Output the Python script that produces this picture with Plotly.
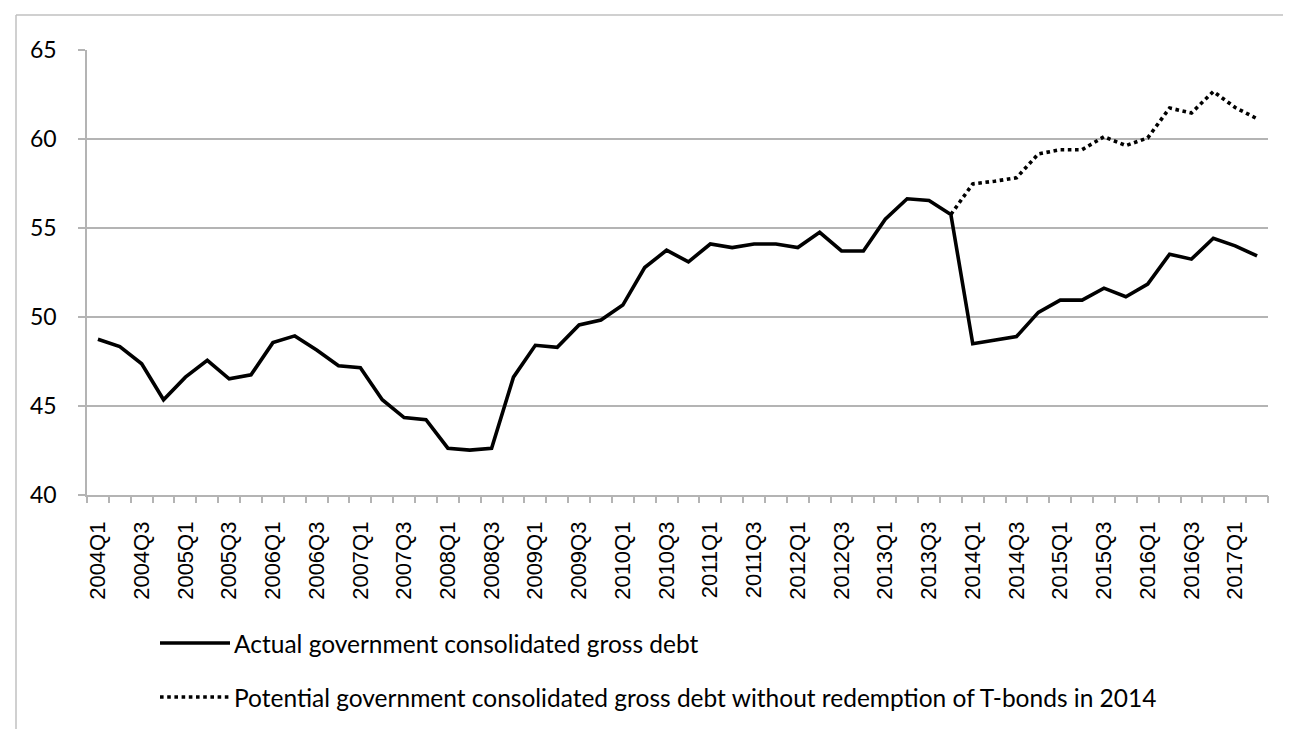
import plotly.graph_objects as go

quarters = [f"{y}Q{q}" for y in range(2004, 2018) for q in range(1, 5)][:54]

actual_debt = [48.75, 48.34, 47.37, 45.35, 46.62, 47.56, 46.53, 46.75, 48.56, 48.94,
               48.15, 47.26, 47.15, 45.35, 44.35, 44.23, 42.63, 42.52, 42.63, 46.62,
               48.41, 48.30, 49.55, 49.83, 50.67, 52.78, 53.75, 53.10, 54.10, 53.90,
               54.10, 54.10, 53.90, 54.76, 53.71, 53.71, 55.49, 56.64, 56.55, 55.76,
               48.50, 48.70, 48.90, 50.26, 50.95, 50.95, 51.62, 51.14, 51.85, 53.53,
               53.25, 54.42, 54.00, 53.43]

potential_debt = [None] * 39 + [55.76, 57.48, 57.63, 57.82, 59.16, 59.40, 59.40, 60.13,
                                59.63, 60.06, 61.74, 61.46, 62.67, 61.77, 61.14]

series_names = ["Actual government consolidated gross debt",
                "Potential government consolidated gross debt without redemption of T-bonds in 2014"]

y_ticks = [40, 45, 50, 55, 60, 65]

idx = list(range(len(quarters)))
label_idx = idx[::2]
label_txt = [quarters[i] for i in label_idx]

W, H = 1291, 729
L, R, T, B = 79, 1260, 42, 487
GRID = "#b4b4b4"

fig = go.Figure()
fig.add_trace(go.Scatter(x=idx, y=potential_debt, mode="lines",
                         line=dict(color="black", width=3.6, dash="3.6px,3.6px"),
                         name=series_names[1], showlegend=False, connectgaps=False))
fig.add_trace(go.Scatter(x=idx, y=actual_debt, mode="lines",
                         line=dict(color="black", width=3.6),
                         name=series_names[0], showlegend=False))
# invisible trace to bind the boundary-tick axis
fig.add_trace(go.Scatter(x=[idx[0]], y=[actual_debt[0]], xaxis="x2", mode="markers",
                         marker=dict(opacity=0), showlegend=False, hoverinfo="skip"))

n = len(quarters)
fig.update_layout(
    width=W, height=H,
    margin=dict(l=L, r=W - R, t=T, b=H - B),
    paper_bgcolor="white", plot_bgcolor="white",
    xaxis=dict(range=[-0.5, n - 0.5], tickmode="array", tickvals=label_idx, ticktext=label_txt,
               tickangle=-90, ticks="outside", ticklen=16, tickcolor="rgba(0,0,0,0)",
               showgrid=False, zeroline=False, showline=True, linecolor=GRID, linewidth=1.5,
               tickfont=dict(family="Liberation Sans", size=22, color="black")),
    xaxis2=dict(range=[-0.5, n - 0.5], overlaying="x", anchor="y", side="bottom",
                tickmode="array", tickvals=[i - 0.5 for i in range(n + 1)],
                ticks="outside", ticklen=7, tickcolor=GRID, tickwidth=1.5,
                showticklabels=False, showgrid=False, zeroline=False, showline=False),
    yaxis=dict(range=[40, 65], tickmode="array", tickvals=y_ticks,
               ticks="outside", ticklen=7, tickcolor=GRID, tickwidth=1.5,
               showgrid=True, gridcolor=GRID, gridwidth=1.5, zeroline=False,
               showline=True, linecolor=GRID, linewidth=1.5,
               ticklabelstandoff=17,
               tickfont=dict(family="Lato", size=23, color="black")),
    showlegend=False,
)

def px_x(p):
    return (p - L) / (R - L)

def px_y(p):
    return (B - p) / (B - T)

# outer chart border (top and left edges visible)
fig.add_shape(type="line", xref="paper", yref="paper", x0=px_x(8), x1=px_x(1400),
              y0=px_y(7), y1=px_y(7), line=dict(color="#c0c0c0", width=1.5))
fig.add_shape(type="line", xref="paper", yref="paper", x0=px_x(8), x1=px_x(8),
              y0=px_y(7), y1=px_y(800), line=dict(color="#c0c0c0", width=1.5))

# manual legend
leg_y = [635, 689]
dashes = ["solid", "3.6px,3.6px"]
for name, yy, d in zip(series_names, leg_y, dashes):
    fig.add_shape(type="line", xref="paper", yref="paper", x0=px_x(152), x1=px_x(222),
                  y0=px_y(yy), y1=px_y(yy), line=dict(color="black", width=3.6, dash=d))
    fig.add_annotation(xref="paper", yref="paper", x=px_x(224), y=px_y(yy),
                       text=name, showarrow=False, xanchor="left", yanchor="middle",
                       font=dict(family="Lato", size=24.5, color="black"))

fig.write_html("out.html")
